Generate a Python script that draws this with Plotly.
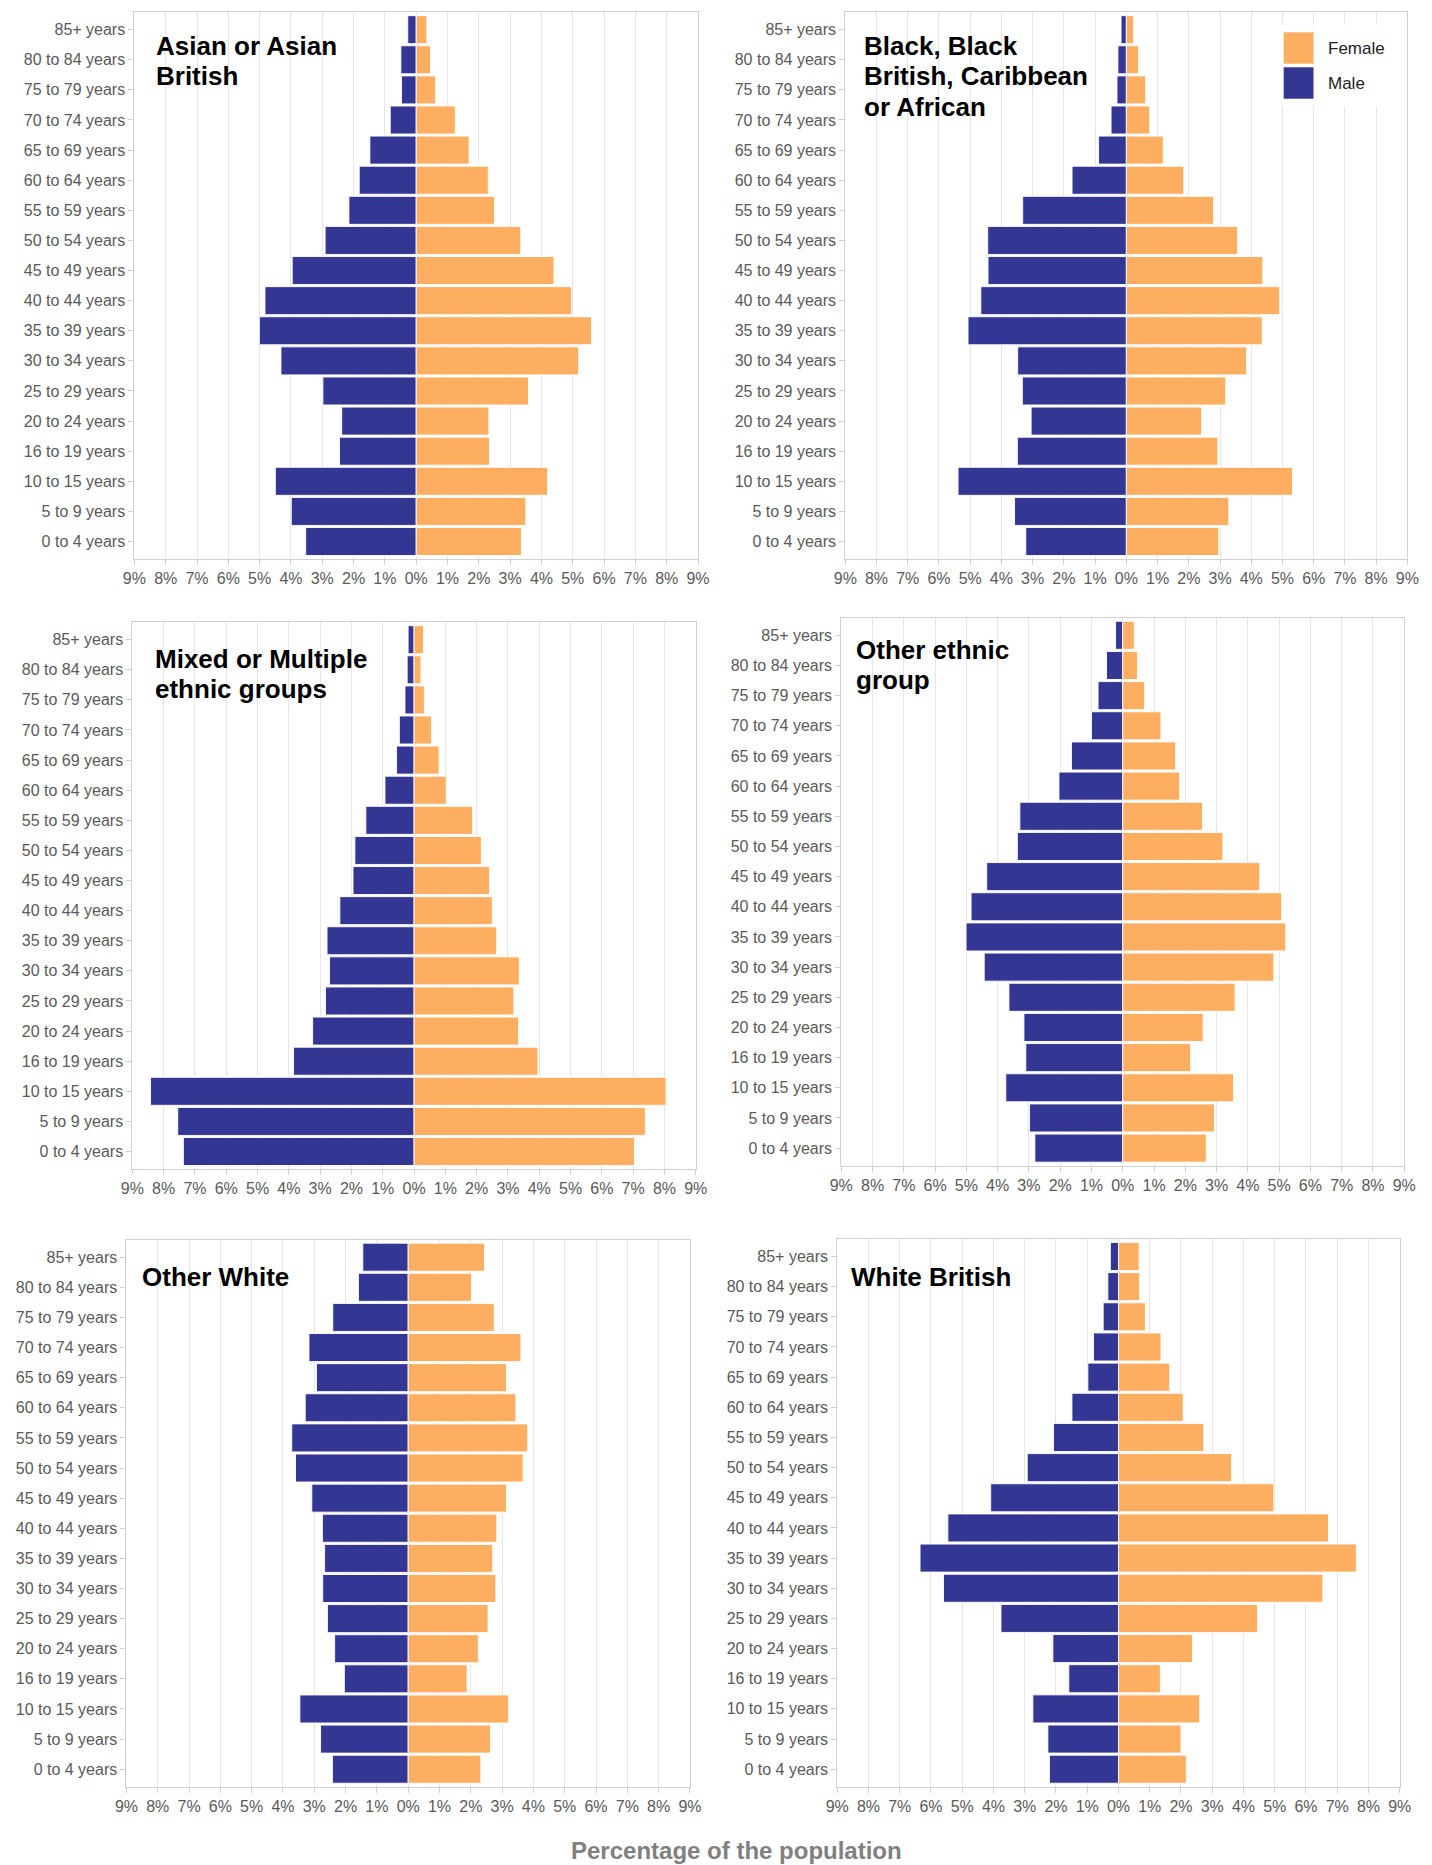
import plotly.graph_objects as go

W, H = 1432, 1865

# ---------------- data ----------------
ages = ["85+ years", "80 to 84 years", "75 to 79 years", "70 to 74 years",
        "65 to 69 years", "60 to 64 years", "55 to 59 years", "50 to 54 years",
        "45 to 49 years", "40 to 44 years", "35 to 39 years", "30 to 34 years",
        "25 to 29 years", "20 to 24 years", "16 to 19 years", "10 to 15 years",
        "5 to 9 years", "0 to 4 years"]

x_tickvals = [-9, -8, -7, -6, -5, -4, -3, -2, -1, 0, 1, 2, 3, 4, 5, 6, 7, 8, 9]
x_ticktext = ["9%", "8%", "7%", "6%", "5%", "4%", "3%", "2%", "1%", "0%",
              "1%", "2%", "3%", "4%", "5%", "6%", "7%", "8%", "9%"]

groups = ["Asian or Asian British",
          "Black, Black British, Caribbean or African",
          "Mixed or Multiple ethnic groups",
          "Other ethnic group",
          "Other White",
          "White British"]

group_title_lines = [["Asian or Asian", "British"],
                     ["Black, Black", "British, Caribbean", "or African"],
                     ["Mixed or Multiple", "ethnic groups"],
                     ["Other ethnic", "group"],
                     ["Other White"],
                     ["White British"]]

asian_male = [0.27, 0.49, 0.47, 0.83, 1.48, 1.82, 2.15, 2.91, 3.96, 4.83,
              5.01, 4.32, 2.98, 2.38, 2.45, 4.50, 3.99, 3.53]
asian_female = [0.34, 0.46, 0.62, 1.25, 1.69, 2.30, 2.50, 3.34, 4.40, 4.96,
                5.60, 5.19, 3.59, 2.32, 2.34, 4.20, 3.50, 3.36]

black_male = [0.17, 0.27, 0.30, 0.49, 0.89, 1.74, 3.32, 4.44, 4.43, 4.66,
              5.07, 3.48, 3.33, 3.05, 3.49, 5.39, 3.58, 3.22]
black_female = [0.23, 0.39, 0.62, 0.75, 1.18, 1.84, 2.79, 3.56, 4.37, 4.91,
                4.35, 3.85, 3.18, 2.41, 2.93, 5.32, 3.28, 2.96]

mixed_male = [0.19, 0.22, 0.29, 0.47, 0.56, 0.93, 1.54, 1.89, 1.95, 2.37,
              2.78, 2.70, 2.83, 3.24, 3.85, 8.42, 7.55, 7.37]
mixed_female = [0.30, 0.22, 0.33, 0.56, 0.80, 1.03, 1.87, 2.15, 2.41, 2.50,
                2.64, 3.36, 3.19, 3.34, 3.96, 8.05, 7.39, 7.04]

other_male = [0.23, 0.52, 0.79, 1.00, 1.64, 2.04, 3.29, 3.37, 4.35, 4.85,
              5.01, 4.43, 3.64, 3.16, 3.10, 3.74, 2.98, 2.81]
other_female = [0.37, 0.47, 0.70, 1.22, 1.69, 1.82, 2.55, 3.20, 4.38, 5.08,
                5.21, 4.83, 3.59, 2.57, 2.17, 3.54, 2.93, 2.67]

otherwhite_male = [1.45, 1.59, 2.41, 3.17, 2.93, 3.29, 3.72, 3.60, 3.08, 2.74,
                   2.67, 2.73, 2.58, 2.35, 2.04, 3.46, 2.80, 2.42]
otherwhite_female = [2.44, 2.02, 2.75, 3.60, 3.14, 3.44, 3.82, 3.67, 3.14, 2.83,
                     2.70, 2.80, 2.55, 2.24, 1.88, 3.21, 2.63, 2.32]

wb_male = [0.26, 0.34, 0.49, 0.80, 0.98, 1.49, 2.08, 2.92, 4.09, 5.46,
           6.35, 5.60, 3.76, 2.10, 1.59, 2.74, 2.26, 2.21]
wb_female = [0.66, 0.68, 0.86, 1.36, 1.64, 2.07, 2.73, 3.62, 4.97, 6.72,
             7.61, 6.54, 4.45, 2.37, 1.34, 2.60, 2.00, 2.17]

male_series = [asian_male, black_male, mixed_male, other_male, otherwhite_male, wb_male]
female_series = [asian_female, black_female, mixed_female, other_female,
                 otherwhite_female, wb_female]

legend_labels = ["Female", "Male"]
x_title = "Percentage of the population"

# ---------------- style ----------------
MALE_COLOR = "#333692"
FEMALE_COLOR = "#FDAE61"
GRID = "#e6e6e6"
BORDER = "#d0d0d0"
TICK_FONT = dict(family="Liberation Sans, Arial, sans-serif", size=16, color="#5a5a5a")
TITLE_FONT = dict(family="Liberation Sans, Arial, sans-serif", size=26, color="#000000")

# panel boxes in pixels: left, right, top, bottom
boxes = [(124.5, 697.7, 12.2, 559.0),
         (847.5, 1419.2, 12.2, 559.0),
         (122.4, 695.4, 622.2, 1169.0),
         (843.4, 1416.0, 617.8, 1165.6),
         (116.4, 689.5, 1239.7, 1786.7),
         (839.3, 1411.4, 1239.0, 1786.7)]
# title text left edge and cap-top, in pixels
title_pos = [(146, 35), (866, 35), (145, 648), (857.5, 639), (131.5, 1266), (853, 1266)]


def px_x(v):
    return v / W


def px_y(v):
    return 1 - v / H


fig = go.Figure()
annotations = []
shapes = []

for i in range(6):
    k = "" if i == 0 else str(i + 1)
    xa, ya = "x" + k, "y" + k
    fig.add_trace(go.Bar(
        y=ages, x=[-v for v in male_series[i]], orientation="h", name="Male",
        marker=dict(color=MALE_COLOR, line=dict(color="rgba(255,255,255,0.9)", width=1)),
        xaxis=xa, yaxis=ya, showlegend=False,
        customdata=male_series[i], hovertemplate="%{y}: %{customdata}%<extra>Male</extra>"))
    fig.add_trace(go.Bar(
        y=ages, x=female_series[i], orientation="h", name="Female",
        marker=dict(color=FEMALE_COLOR, line=dict(color="rgba(255,255,255,0.9)", width=1)),
        xaxis=xa, yaxis=ya, showlegend=False,
        hovertemplate="%{y}: %{x}%<extra>Female</extra>"))

    l, r, t, b = boxes[i]
    xaxis = dict(domain=[px_x(l), px_x(r)], range=[-9, 9], anchor=ya,
                 tickmode="array", tickvals=x_tickvals, ticktext=x_ticktext,
                 showgrid=True, gridcolor=GRID, gridwidth=1, zeroline=False,
                 showline=True, linecolor=BORDER, linewidth=1, mirror=True,
                 ticks="outside", ticklen=5, tickcolor=BORDER, tickfont=TICK_FONT,
                 fixedrange=True)
    yaxis = dict(domain=[px_y(b), px_y(t)], anchor=xa, type="category",
                 categoryorder="array", categoryarray=ages,
                 range=[17.58, -0.58], showgrid=False, zeroline=False,
                 showline=True, linecolor=BORDER, linewidth=1, mirror=True,
                 ticks="outside", ticklen=5, tickcolor=BORDER, tickfont=TICK_FONT,
                 fixedrange=True)
    fig.update_layout(**{"xaxis" + k: xaxis, "yaxis" + k: yaxis})

    tx, ty = title_pos[i]
    for j, line in enumerate(group_title_lines[i]):
        annotations.append(dict(
            text="<b>" + line + "</b>", xref="paper", yref="paper",
            x=px_x(tx - 1.5), y=px_y(ty - 6 + j * 30.4),
            xanchor="left", yanchor="top", showarrow=False, align="left",
            font=TITLE_FONT))

# legend drawn in panel 2 (top-right)
shapes.append(dict(type="rect", xref="paper", yref="paper",
                   x0=px_x(1284), x1=px_x(1418), y0=px_y(106), y1=px_y(25),
                   fillcolor="white", line=dict(width=0), layer="above"))
leg_colors = [FEMALE_COLOR, MALE_COLOR]
leg_rows = [(32, 64), (67, 99)]
for lab, col, (y0, y1) in zip(legend_labels, leg_colors, leg_rows):
    shapes.append(dict(type="rect", xref="paper", yref="paper",
                       x0=px_x(1293), x1=px_x(1324), y0=px_y(y1), y1=px_y(y0),
                       fillcolor=col, line=dict(color="rgba(255,255,255,0.6)", width=1),
                       layer="above"))
    annotations.append(dict(text=lab, xref="paper", yref="paper",
                            x=px_x(1336), y=px_y((y0 + y1) / 2 + 0.5),
                            xanchor="left", yanchor="middle", showarrow=False,
                            font=dict(family="Liberation Sans, Arial, sans-serif",
                                      size=17, color="#222222")))

# shared x-axis title at the bottom edge
annotations.append(dict(text="<b>" + x_title + "</b>", xref="paper", yref="paper",
                        x=px_x(736.5), y=px_y(1835), xanchor="center", yanchor="top",
                        showarrow=False,
                        font=dict(family="Liberation Sans, Arial, sans-serif",
                                  size=24, color="#808080")))

fig.update_layout(
    width=W, height=H, margin=dict(l=0, r=0, t=0, b=0),
    paper_bgcolor="white", plot_bgcolor="white",
    barmode="relative", bargap=0.07,
    showlegend=False, annotations=annotations, shapes=shapes,
    font=dict(family="Liberation Sans, Arial, sans-serif"),
)

fig.write_html("out.html", include_plotlyjs=True,
               config={"displayModeBar": False},
               post_script="document.body.style.margin='0';document.body.style.overflow='hidden';")
